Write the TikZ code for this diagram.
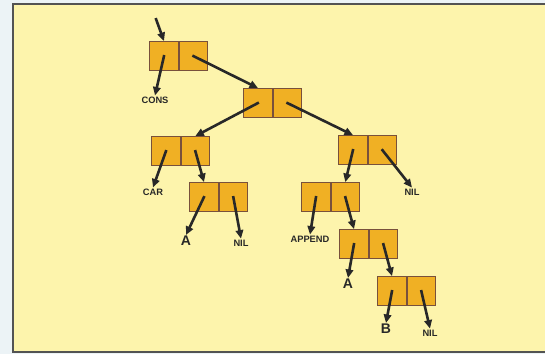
\documentclass[tikz,border=0pt]{standalone}
\usepackage{fontspec}
\setmainfont{Liberation Sans}
\usetikzlibrary{arrows.meta,positioning}
\definecolor{paper}{RGB}{236,243,246}
\definecolor{pad}{RGB}{253,244,172}
\definecolor{cellfill}{RGB}{240,176,36}
\definecolor{celledge}{RGB}{120,80,60}
\definecolor{ink}{RGB}{40,40,40}
\tikzset{
  half/.style={draw=celledge,fill=cellfill,line width=0.8pt,
    minimum width=28.5pt,minimum height=29pt,inner sep=0pt},
  ptr/.style={draw=ink,line width=2.6pt,
    -{Triangle[length=8.5pt,width=7.5pt]},shorten <=-1pt},
  atom/.style={text=ink,font=\fontsize{9.3}{10}\selectfont\bfseries,
    inner sep=1pt},
  bigatom/.style={atom,font=\fontsize{14}{15}\selectfont\bfseries}
}
\begin{document}
\begin{tikzpicture}[x=1pt,y=-1pt]
    \useasboundingbox (0,0) rectangle (545,354);
    \fill[paper] (0,0) rectangle (545,354);
    \draw[fill=pad,draw=ink!80,line width=1.3pt]
      (13,4) rectangle (550,352);
    % the cells
    \node[half] (car1) at (164,56) {};
    \node[half,right=0pt of car1] (cdr1) {};
    \node[half] (car2) at (258,103) {};
    \node[half,right=0pt of car2] (cdr2) {};
    \node[half] (car3) at (166,151) {};
    \node[half,right=0pt of car3] (cdr3) {};
    \node[half] (car4) at (353,150) {};
    \node[half,right=0pt of car4] (cdr4) {};
    \node[half] (car5) at (204,197) {};
    \node[half,right=0pt of car5] (cdr5) {};
    \node[half] (car6) at (316,197) {};
    \node[half,right=0pt of car6] (cdr6) {};
    \node[half] (car7) at (354,244) {};
    \node[half,right=0pt of car7] (cdr7) {};
    \node[half] (car8) at (392,291) {};
    \node[half,right=0pt of car8] (cdr8) {};
    % the atoms
    \node[atom] (cons) at (155,100) {CONS};
    \node[atom] (car) at (153,192) {CAR};
    \node[bigatom] (a1) at (186,241) {A};
    \node[atom] (nil1) at (241,243) {NIL};
    \node[atom] (append) at (310,239) {APPEND};
    \node[atom] (nil2) at (412,192) {NIL};
    \node[bigatom] (a2) at (348,284) {A};
    \node[bigatom] (b) at (386,329) {B};
    \node[atom] (nil3) at (430,333) {NIL};
    \coordinate (entry) at (156,19);
    % the pointers
    \draw[ptr] (entry) -- (car1.north);
    \draw[ptr] (car1.center) -- (cons.north);
    \draw[ptr] (cdr1.center) -- (car2.north);
    \draw[ptr] (car2.center) -- (cdr3.north);
    \draw[ptr] (cdr2.center) -- (car4.north);
    \draw[ptr] (car3.center) -- (car.north);
    \draw[ptr] (cdr3.center) -- (car5.north);
    \draw[ptr] (car5.center) -- (a1.north);
    \draw[ptr] (cdr5.center) -- (nil1.north);
    \draw[ptr] (car4.center) -- (cdr6.north);
    \draw[ptr] (cdr4.center) -- (nil2.north);
    \draw[ptr] (car6.center) -- (append.north);
    \draw[ptr] (cdr6.center) -- (car7.north);
    \draw[ptr] (car7.center) -- (a2.north);
    \draw[ptr] (cdr7.center) -- (car8.north);
    \draw[ptr] (car8.center) -- (b.north);
    \draw[ptr] (cdr8.center) -- (nil3.north);
\end{tikzpicture}
\end{document}
